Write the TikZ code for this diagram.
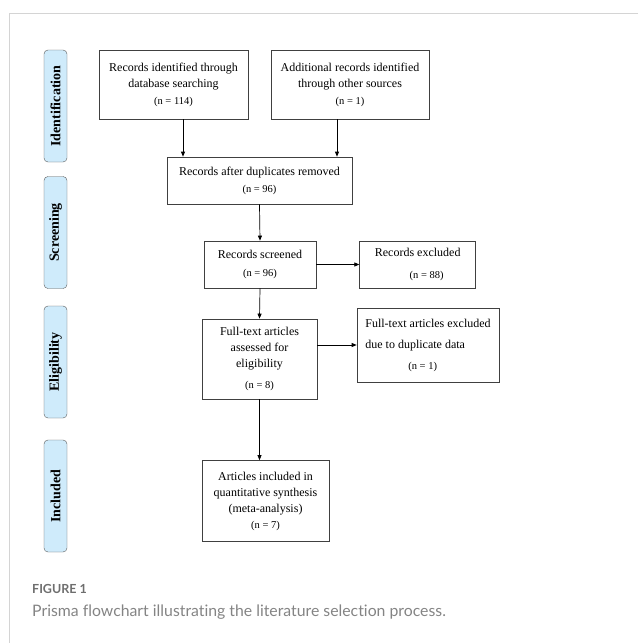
\documentclass[tikz,border=0pt]{standalone}
\usepackage{fontspec}
\setmainfont{Liberation Serif}
\newfontfamily\capfont[Ligatures=NoCommon]{Lato}
\usetikzlibrary{arrows.meta,positioning}
\definecolor{phaseblue}{HTML}{CFEBFB}
\definecolor{capgray}{HTML}{6E6E6E}
\definecolor{framegray}{HTML}{D4D4D4}
\newcommand{\nsmall}[1]{{\fontsize{10.5}{12}\selectfont #1}}
\tikzset{
    %Define standard arrow tip
    >={Triangle[length=5pt,width=4pt]},
    %Define style for boxes
    boks/.style={
           rectangle,
           draw=black!75, line width=0.7pt,
           align=center,
           font=\fontsize{12}{16}\selectfont,
           inner sep=2pt},
    %Define style for phase labels
    fase/.style={
           rectangle,
           rounded corners=4pt,
           draw=black!65, thin,
           fill=phaseblue,
           minimum width=112pt,
           minimum height=23pt,
           rotate=90,
           font=\fontsize{14}{16}\selectfont\bfseries},
    % Define arrow style
    pil/.style={
           ->,
           line width=0.7pt}
}
\begin{document}
\begin{tikzpicture}[x=1pt, y=-1pt]
         \useasboundingbox (0,0) rectangle (638,643);
         \draw[framegray, line width=1pt] (638,13) -- (9,13) -- (9,643);
         %phases
          \node[fase] (ident) at (55.5,106) {Identification};
          \node[fase] (scr) at (55.5,232.5) {Screening};
          \node[fase] (elig) at (55.5,362) {Eligibility};
          \node[fase] (incl) at (55.5,496) {Included};
         %nodes
          \node[boks, minimum width=149pt, minimum height=69pt] (dbase) at (173.5,84.5)
          {Records identified through\\database searching\\[1pt]\nsmall{(n = 114)}};
          \node[boks, minimum width=158pt, minimum height=69pt] (other) at (350,84.5)
          {Additional records identified\\through other sources\\[1pt]\nsmall{(n = 1)}};
          \node[boks, minimum width=185pt, minimum height=47pt] (dedup) at (259.5,180.5)
          {Records after duplicates removed\\[1pt]\nsmall{(n = 96)}};
          \node[boks, minimum width=112pt, minimum height=47pt] (screen) at (260,264.5)
          {Records screened\\[2pt]\nsmall{(n = 96)}};
          \node[boks, minimum width=116pt, minimum height=47pt, right=43pt of screen] (excl)
          {Records excluded\\[6pt]\hspace*{18pt}\nsmall{(n = 88)}};
          \node[boks, minimum width=115pt, minimum height=80pt] (full) at (259.5,359)
          {Full-text articles\\assessed for\\eligibility\\[5pt]\nsmall{(n = 8)}};
          \node[boks, minimum width=142pt, minimum height=74pt, align=left] (dupl) at (428,345)
          {Full-text articles excluded\\[5pt]due to duplicate data\\[5pt]\hspace*{43pt}\nsmall{(n = 1)}};
          \node[boks, minimum width=127pt, minimum height=81pt] (synth) at (265.5,501)
          {Articles included in\\quantitative synthesis\\(meta-analysis)\\\nsmall{(n = 7)}};
         %arrows
          \draw[pil] ([xshift=9.5pt]dbase.south) -- ([xshift=9.5pt]dbase.south |- dedup.north);
          \draw[pil] ([xshift=-13pt]other.south) -- ([xshift=-13pt]other.south |- dedup.north);
          \draw[pil] (dedup.south) -- (screen.north);
          \draw[pil] (screen.east) -- (excl.west);
          \draw[pil] (screen.south) -- (full.north);
          \draw[pil] (full.east |- dupl.west) -- (dupl.west);
          \draw[pil] (full.south) -- (full.south |- synth.north);
         %caption
          \node[anchor=base west, inner sep=0, text=capgray,
                font=\capfont\fontsize{12.5}{14}\selectfont\bfseries] (fig) at (32,593) {FIGURE 1};
          \node[anchor=base west, inner sep=0, text=capgray!85,
                font=\capfont\fontsize{15.8}{18}\selectfont] (cap) at (32,616)
          {Prisma flowchart illustrating the literature selection process.};
        \end{tikzpicture}
\end{document}
